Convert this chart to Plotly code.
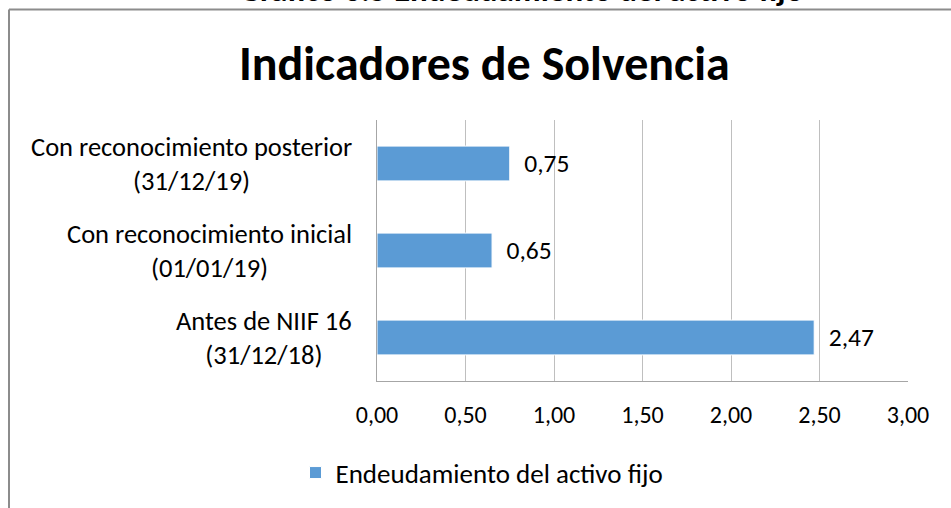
import plotly.graph_objects as go

categories = ["Antes de NIIF 16<br>(31/12/18)",
              "Con reconocimiento inicial<br>(01/01/19)",
              "Con reconocimiento posterior<br>(31/12/19)"]
values = [2.47, 0.65, 0.75]
series_name = "Endeudamiento del activo fijo"
x_ticks = [0, 0.5, 1.0, 1.5, 2.0, 2.5, 3.0]

FONT = "Carlito, Calibri, Lato, sans-serif"
W, H = 951, 508
L, R, T, B = 377, 43, 120, 126
pw, ph = W - L - R, H - T - B

def px_x(p):
    return (p - L) / pw

def px_y(p):
    return (H - B - p) / ph

fig = go.Figure()
fig.add_trace(go.Bar(
    y=categories, x=values, orientation="h", name=series_name,
    marker=dict(color="#5B9BD5", line=dict(color="#ffffff", width=1)),
    text=values, texttemplate="\u00a0\u00a0%{x:.2f}", textposition="outside",
    textfont=dict(family=FONT, size=25.5, color="#000000"),
    cliponaxis=False, showlegend=True,
))

for c in categories:
    fig.add_annotation(x=px_x(354), y=c, xref="paper", yref="y",
                       text=c, showarrow=False, xanchor="right", align="center",
                       font=dict(family=FONT, size=26.5, color="#000000"))

fig.add_annotation(x=px_x(484), y=px_y(63), xref="paper", yref="paper",
                   text="<b>Indicadores de Solvencia</b>", showarrow=False,
                   xanchor="center", yanchor="middle",
                   font=dict(family=FONT, size=48, color="#000000"))
fig.add_annotation(x=px_x(521), y=px_y(-11), xref="paper", yref="paper",
                   text="<b>Gráfico 6.5 Endeudamiento del activo fijo</b>", showarrow=False,
                   xanchor="center", yanchor="middle",
                   font=dict(family=FONT, size=33, color="#000000"))

fig.add_shape(type="line", xref="paper", yref="paper",
              x0=px_x(9), x1=px_x(960), y0=px_y(9), y1=px_y(9),
              line=dict(color="#8c8c8c", width=2))
fig.add_shape(type="line", xref="paper", yref="paper",
              x0=px_x(9), x1=px_x(9), y0=px_y(9), y1=px_y(520),
              line=dict(color="#8c8c8c", width=2))

fig.update_layout(
    width=W, height=H, margin=dict(l=L, r=R, t=T, b=B),
    paper_bgcolor="white", plot_bgcolor="white",
    separators=",.", bargap=0.6,
    font=dict(family=FONT, size=20, color="#000000"),
    legend=dict(orientation="h", x=px_x(482), y=px_y(473), xanchor="center",
                yanchor="middle", font=dict(family=FONT, size=27),
                itemwidth=30),
    xaxis=dict(range=[0, 3], tickvals=x_ticks, tickformat=".2f",
               showgrid=True, gridcolor="#bfbfbf", gridwidth=1,
               showline=True, linecolor="#a6a6a6", linewidth=1,
               ticks="", ticklabelstandoff=12, zeroline=False,
               tickfont=dict(family=FONT, size=24)),
    yaxis=dict(showticklabels=False, showgrid=False, showline=True,
               linecolor="#a6a6a6", linewidth=1, ticks="", zeroline=False),
)

fig.write_html("out.html", config={"displayModeBar": False},
               post_script="document.body.style.margin='0';document.body.style.overflow='hidden';")
